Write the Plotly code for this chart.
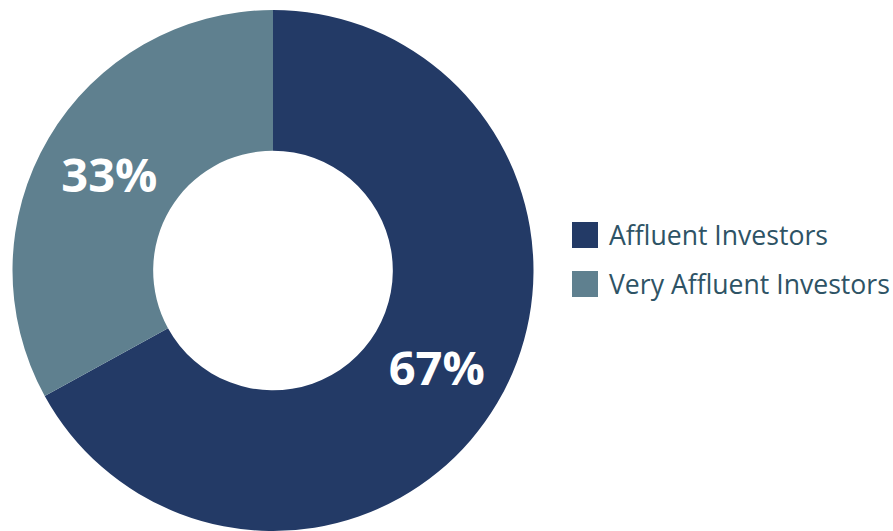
import plotly.graph_objects as go

# Investor segments and their share
segments = ["Affluent Investors", "Very Affluent Investors"]
shares = [67, 33]
colors = ["#233a66", "#5f808f"]
label_color = "#2e5365"

fig = go.Figure(
    go.Pie(
        labels=segments,
        values=shares,
        hole=0.46,
        sort=False,
        direction="clockwise",
        rotation=0,
        marker=dict(colors=colors, line=dict(width=0)),
        texttemplate="%{value}%",
        textposition="inside",
        insidetextorientation="horizontal",
        textfont=dict(family="Open Sans", size=47, color="white", weight="bold"),
        showlegend=False,
        hoverinfo="label+percent",
        domain=dict(x=[12 / 893, 534 / 893], y=[0, 1 - 10 / 531]),
    )
)

# Legend: colour swatches with labels to the right of the ring
sw_x0, sw_size = 572, 26
row_top = [222, 271]
W, H = 893, 531
for name, col, top in zip(segments, colors, row_top):
    fig.add_shape(
        type="rect", xref="paper", yref="paper",
        x0=sw_x0 / W, x1=(sw_x0 + sw_size) / W,
        y0=1 - (top + sw_size) / H, y1=1 - top / H,
        fillcolor=col, line=dict(width=0),
    )
    fig.add_annotation(
        xref="paper", yref="paper",
        x=607 / W, y=1 - (top + sw_size / 2) / H,
        xanchor="left", yanchor="middle",
        text=name, showarrow=False,
        font=dict(family="Open Sans", size=26.6, color=label_color),
    )

fig.update_layout(
    width=W, height=H,
    margin=dict(l=0, r=0, t=0, b=0),
    paper_bgcolor="white",
    plot_bgcolor="white",
)

fig.write_html("out.html")
